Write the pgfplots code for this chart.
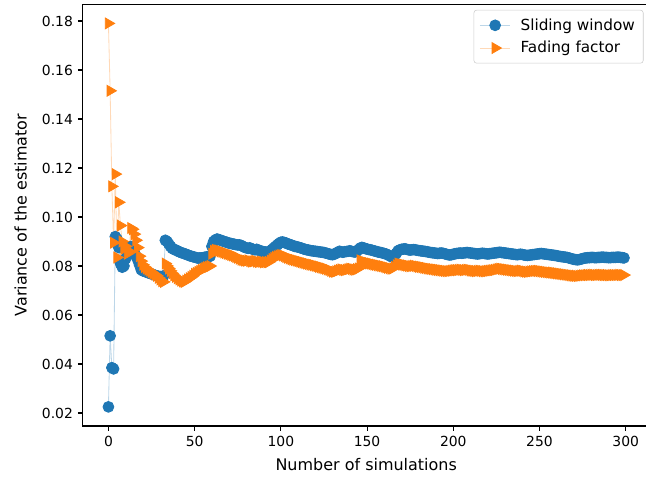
\documentclass[border=0pt]{standalone}
\usepackage{fontspec}
\setmainfont{DejaVu Sans}
\usepackage{pgfplots}
\pgfplotsset{compat=1.18}
\definecolor{C0}{HTML}{1F77B4}
\definecolor{C1}{HTML}{FF7F0E}
\begin{document}
\begin{tikzpicture}
\begin{axis}[
  scale only axis, width=408.3pt, height=303.6pt,
  xmin=-14.95, xmax=313.95, ymin=0.0147, ymax=0.1868,
  xtick={0,50,...,300},
  ytick={0.02,0.04,0.06,0.08,0.10,0.12,0.14,0.16,0.18},
  yticklabel style={/pgf/number format/.cd,fixed,fixed zerofill,precision=2},
  /pgf/number format/assume math mode=true,
  tick align=outside, major tick length=3.5pt,
  xtick pos=bottom, ytick pos=left,
  tick style={black, line width=0.8pt},
  axis line style={line width=0.8pt},
  every tick label/.append style={font=\fontsize{10}{12}\selectfont},
  label style={font=\fontsize{11.5}{13}\selectfont},
  xlabel={Number of simulations},
  ylabel={Variance of the estimator},
  xlabel style={yshift=-1.5pt},
  ylabel style={yshift=4pt},
  legend image code/.code={%
    \draw[mark repeat=2,mark phase=2,fill opacity=1,draw opacity=1] plot coordinates {(0pt,0pt) (11pt,0pt) (22pt,0pt)};
    \path (27pt,0pt);},
  legend style={at={(1,1)}, anchor=north east, xshift=-4.5pt, yshift=-4pt,
    draw=black!20, rounded corners=2pt, fill=white, fill opacity=0.8, draw opacity=1, text opacity=1,
    font=\fontsize{11}{13}\selectfont, row sep=2.5pt, inner xsep=4pt, inner ysep=4pt},
  legend cell align=left,
]
\addplot[color=C0!30!white, line width=0.6pt, mark=*, mark size=3.9pt,
  mark options={solid, draw=C0, fill=C0}] coordinates {
(0,0.0225)(1,0.0515)(2,0.0385)(3,0.0380)(4,0.0920)(5,0.0910)(6,0.0875)(7,0.0810)(8,0.0795)(9,0.0800)
(10,0.0830)(11,0.0850)(12,0.0870)(13,0.0880)(14,0.0870)(15,0.0855)(16,0.0840)(17,0.0825)(18,0.0805)(19,0.0785)
(20,0.0780)(21,0.0778)(22,0.0775)(23,0.0772)(24,0.0770)(25,0.0768)(26,0.0765)(27,0.0762)(28,0.0760)(29,0.0758)
(30,0.0757)(31,0.0755)(32,0.0760)(33,0.0905)(34,0.0900)(35,0.0890)(36,0.0880)(37,0.0872)(38,0.0868)(39,0.0865)
(40,0.0862)(41,0.0858)(42,0.0855)(43,0.0853)(44,0.0850)(45,0.0848)(46,0.0845)(47,0.0842)(48,0.0840)(49,0.0838)
(50,0.0836)(51,0.0834)(52,0.0832)(53,0.0833)(54,0.0833)(55,0.0834)(56,0.0836)(57,0.0837)(58,0.0837)(59,0.0840)
(60,0.0880)(61,0.0900)(62,0.0906)(63,0.0910)(64,0.0908)(65,0.0905)(66,0.0903)(67,0.0900)(68,0.0898)(69,0.0896)
(70,0.0893)(71,0.0892)(72,0.0890)(73,0.0889)(74,0.0887)(75,0.0886)(76,0.0886)(77,0.0884)(78,0.0880)(79,0.0876)
(80,0.0874)(81,0.0872)(82,0.0874)(83,0.0870)(84,0.0868)(85,0.0866)(86,0.0868)(87,0.0865)(88,0.0862)(89,0.0860)
(90,0.0858)(91,0.0857)(92,0.0856)(93,0.0857)(94,0.0862)(95,0.0868)(96,0.0874)(97,0.0880)(98,0.0886)(99,0.0892)
(100,0.0897)(101,0.0898)(102,0.0896)(103,0.0894)(104,0.0890)(105,0.0888)(106,0.0886)(107,0.0883)(108,0.0880)(109,0.0879)
(110,0.0877)(111,0.0875)(112,0.0873)(113,0.0870)(114,0.0868)(115,0.0866)(116,0.0865)(117,0.0863)(118,0.0862)(119,0.0861)
(120,0.0860)(121,0.0859)(122,0.0858)(123,0.0857)(124,0.0856)(125,0.0855)(126,0.0853)(127,0.0851)(128,0.0849)(129,0.0847)
(130,0.0846)(131,0.0848)(132,0.0852)(133,0.0856)(134,0.0860)(135,0.0858)(136,0.0856)(137,0.0858)(138,0.0859)(139,0.0860)
(140,0.0862)(141,0.0860)(142,0.0858)(143,0.0857)(144,0.0860)(145,0.0866)(146,0.0873)(147,0.0876)(148,0.0874)(149,0.0871)
(150,0.0869)(151,0.0867)(152,0.0866)(153,0.0864)(154,0.0862)(155,0.0860)(156,0.0858)(157,0.0856)(158,0.0855)(159,0.0853)
(160,0.0851)(161,0.0849)(162,0.0846)(163,0.0842)(164,0.0838)(165,0.0838)(166,0.0842)(167,0.0852)(168,0.0862)(169,0.0866)
(170,0.0868)(171,0.0869)(172,0.0870)(173,0.0868)(174,0.0866)(175,0.0865)(176,0.0866)(177,0.0867)(178,0.0866)(179,0.0864)
(180,0.0863)(181,0.0862)(182,0.0861)(183,0.0860)(184,0.0859)(185,0.0858)(186,0.0856)(187,0.0855)(188,0.0854)(189,0.0853)
(190,0.0852)(191,0.0851)(192,0.0852)(193,0.0853)(194,0.0852)(195,0.0850)(196,0.0848)(197,0.0846)(198,0.0845)(199,0.0846)
(200,0.0848)(201,0.0850)(202,0.0851)(203,0.0852)(204,0.0853)(205,0.0852)(206,0.0853)(207,0.0854)(208,0.0855)(209,0.0854)
(210,0.0853)(211,0.0852)(212,0.0851)(213,0.0850)(214,0.0849)(215,0.0850)(216,0.0851)(217,0.0852)(218,0.0851)(219,0.0850)
(220,0.0849)(221,0.0850)(222,0.0851)(223,0.0852)(224,0.0853)(225,0.0854)(226,0.0855)(227,0.0856)(228,0.0855)(229,0.0854)
(230,0.0853)(231,0.0852)(232,0.0851)(233,0.0850)(234,0.0849)(235,0.0848)(236,0.0847)(237,0.0846)(238,0.0847)(239,0.0848)
(240,0.0847)(241,0.0845)(242,0.0844)(243,0.0843)(244,0.0844)(245,0.0845)(246,0.0846)(247,0.0847)(248,0.0848)(249,0.0849)
(250,0.0850)(251,0.0851)(252,0.0850)(253,0.0849)(254,0.0848)(255,0.0847)(256,0.0846)(257,0.0845)(258,0.0844)(259,0.0843)
(260,0.0842)(261,0.0840)(262,0.0839)(263,0.0838)(264,0.0837)(265,0.0836)(266,0.0835)(267,0.0833)(268,0.0831)(269,0.0829)
(270,0.0827)(271,0.0826)(272,0.0825)(273,0.0826)(274,0.0828)(275,0.0830)(276,0.0832)(277,0.0833)(278,0.0834)(279,0.0834)
(280,0.0835)(281,0.0835)(282,0.0834)(283,0.0834)(284,0.0835)(285,0.0835)(286,0.0836)(287,0.0836)(288,0.0835)(289,0.0835)
(290,0.0834)(291,0.0834)(292,0.0835)(293,0.0835)(294,0.0835)(295,0.0836)(296,0.0836)(297,0.0835)(298,0.0834)(299,0.0833)
};
\addlegendentry{Sliding window}
\addplot[color=C1!30!white, line width=0.6pt, mark=triangle*, mark size=4.5pt,
  mark options={solid, draw=C1, fill=C1, rotate=-90}] coordinates {
(0,0.1790)(1,0.1515)(2,0.1125)(3,0.0895)(4,0.1175)(5,0.0835)(6,0.1060)(7,0.0965)(8,0.0900)(9,0.0870)
(10,0.0880)(11,0.0850)(12,0.0860)(13,0.0955)(14,0.0950)(15,0.0930)(16,0.0905)(17,0.0875)(18,0.0840)(19,0.0820)
(20,0.0805)(21,0.0796)(22,0.0790)(23,0.0785)(24,0.0780)(25,0.0775)(26,0.0770)(27,0.0765)(28,0.0760)(29,0.0752)
(30,0.0745)(31,0.0738)(32,0.0735)(33,0.0810)(34,0.0800)(35,0.0790)(36,0.0780)(37,0.0770)(38,0.0762)(39,0.0756)
(40,0.0750)(41,0.0745)(42,0.0740)(43,0.0737)(44,0.0735)(45,0.0740)(46,0.0745)(47,0.0750)(48,0.0755)(49,0.0760)
(50,0.0768)(51,0.0772)(52,0.0776)(53,0.0780)(54,0.0784)(55,0.0788)(56,0.0792)(57,0.0795)(58,0.0797)(59,0.0800)
(60,0.0850)(61,0.0862)(62,0.0866)(63,0.0864)(64,0.0862)(65,0.0860)(66,0.0858)(67,0.0855)(68,0.0853)(69,0.0850)
(70,0.0848)(71,0.0845)(72,0.0843)(73,0.0840)(74,0.0837)(75,0.0834)(76,0.0830)(77,0.0826)(78,0.0824)(79,0.0822)
(80,0.0821)(81,0.0823)(82,0.0820)(83,0.0818)(84,0.0819)(85,0.0821)(86,0.0818)(87,0.0816)(88,0.0818)(89,0.0817)
(90,0.0815)(91,0.0816)(92,0.0815)(93,0.0816)(94,0.0822)(95,0.0828)(96,0.0833)(97,0.0837)(98,0.0840)(99,0.0843)
(100,0.0845)(101,0.0843)(102,0.0840)(103,0.0837)(104,0.0834)(105,0.0831)(106,0.0828)(107,0.0826)(108,0.0824)(109,0.0822)
(110,0.0820)(111,0.0818)(112,0.0816)(113,0.0814)(114,0.0812)(115,0.0810)(116,0.0808)(117,0.0806)(118,0.0805)(119,0.0803)
(120,0.0801)(121,0.0799)(122,0.0797)(123,0.0795)(124,0.0793)(125,0.0791)(126,0.0789)(127,0.0786)(128,0.0784)(129,0.0780)
(130,0.0777)(131,0.0776)(132,0.0778)(133,0.0781)(134,0.0784)(135,0.0786)(136,0.0784)(137,0.0783)(138,0.0785)(139,0.0787)
(140,0.0789)(141,0.0788)(142,0.0786)(143,0.0785)(144,0.0787)(145,0.0790)(146,0.0823)(147,0.0820)(148,0.0817)(149,0.0815)
(150,0.0813)(151,0.0811)(152,0.0810)(153,0.0808)(154,0.0806)(155,0.0805)(156,0.0803)(157,0.0802)(158,0.0800)(159,0.0799)
(160,0.0797)(161,0.0795)(162,0.0793)(163,0.0791)(164,0.0789)(165,0.0790)(166,0.0796)(167,0.0803)(168,0.0810)(169,0.0808)
(170,0.0806)(171,0.0805)(172,0.0803)(173,0.0802)(174,0.0800)(175,0.0799)(176,0.0800)(177,0.0801)(178,0.0800)(179,0.0798)
(180,0.0797)(181,0.0796)(182,0.0795)(183,0.0793)(184,0.0792)(185,0.0790)(186,0.0789)(187,0.0788)(188,0.0787)(189,0.0786)
(190,0.0785)(191,0.0784)(192,0.0783)(193,0.0782)(194,0.0781)(195,0.0780)(196,0.0779)(197,0.0779)(198,0.0780)(199,0.0781)
(200,0.0782)(201,0.0783)(202,0.0783)(203,0.0784)(204,0.0785)(205,0.0784)(206,0.0783)(207,0.0784)(208,0.0785)(209,0.0784)
(210,0.0782)(211,0.0781)(212,0.0780)(213,0.0779)(214,0.0780)(215,0.0781)(216,0.0780)(217,0.0779)(218,0.0778)(219,0.0779)
(220,0.0780)(221,0.0781)(222,0.0782)(223,0.0783)(224,0.0784)(225,0.0786)(226,0.0788)(227,0.0789)(228,0.0788)(229,0.0787)
(230,0.0786)(231,0.0785)(232,0.0784)(233,0.0783)(234,0.0782)(235,0.0781)(236,0.0780)(237,0.0779)(238,0.0780)(239,0.0781)
(240,0.0780)(241,0.0778)(242,0.0777)(243,0.0776)(244,0.0777)(245,0.0778)(246,0.0779)(247,0.0780)(248,0.0780)(249,0.0780)
(250,0.0779)(251,0.0778)(252,0.0777)(253,0.0776)(254,0.0775)(255,0.0774)(256,0.0773)(257,0.0773)(258,0.0772)(259,0.0771)
(260,0.0770)(261,0.0769)(262,0.0768)(263,0.0767)(264,0.0766)(265,0.0765)(266,0.0764)(267,0.0763)(268,0.0762)(269,0.0761)
(270,0.0760)(271,0.0760)(272,0.0759)(273,0.0760)(274,0.0761)(275,0.0762)(276,0.0762)(277,0.0763)(278,0.0763)(279,0.0763)
(280,0.0764)(281,0.0764)(282,0.0763)(283,0.0763)(284,0.0764)(285,0.0764)(286,0.0764)(287,0.0763)(288,0.0763)(289,0.0763)
(290,0.0762)(291,0.0762)(292,0.0763)(293,0.0763)(294,0.0763)(295,0.0763)(296,0.0764)(297,0.0763)(298,0.0763)(299,0.0763)
};
\addlegendentry{Fading factor}
\end{axis}
\pgfresetboundingbox
\useasboundingbox (-59.5pt,-38.2pt) rectangle (405.6pt,306.7pt);
\end{tikzpicture}
\end{document}
